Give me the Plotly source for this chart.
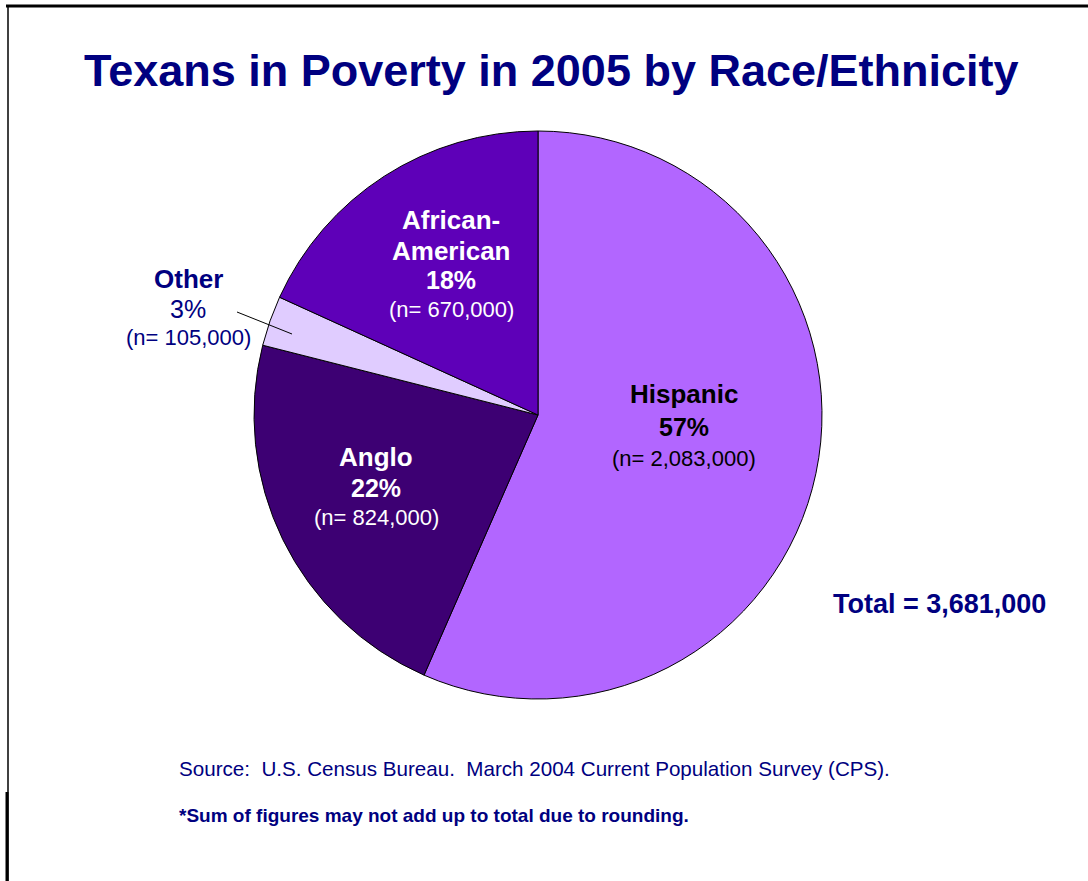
import plotly.graph_objects as go

# Poverty counts by race/ethnicity, Texas 2005
groups = ["Hispanic", "Anglo", "Other", "African-American"]
counts = [2083000, 824000, 105000, 670000]
percents = [57, 22, 3, 18]
total = 3681000
slice_colors = ["#B266FF", "#3D0073", "#E0CCFF", "#5E00B8"]
label_colors = ["#000000", "#FFFFFF", "#000080", "#FFFFFF"]

W, H = 1088, 881
NAVY = "#000080"
FONT = "Liberation Sans, Arial, sans-serif"


def px(x):
    return x / W


def py(y):
    return 1 - y / H


# pie centre and radius in pixels
cx, cy, r = 538, 415, 284

fig = go.Figure(
    go.Pie(
        labels=groups,
        values=counts,
        sort=False,
        direction="clockwise",
        rotation=0,
        marker=dict(colors=slice_colors, line=dict(color="#000000", width=1)),
        textinfo="none",
        textposition="none",
        hoverinfo="label+value+percent",
        domain=dict(x=[px(cx - r), px(cx + r)], y=[py(cy + r), py(cy - r)]),
        showlegend=False,
    )
)

annotations = []


def add_text(text, x, y, size, color, bold=False, family=FONT, anchor="center"):
    annotations.append(
        dict(
            text=f"<b>{text}</b>" if bold else text,
            x=px(x), y=py(y), xref="paper", yref="paper",
            xanchor=anchor, yanchor="middle", showarrow=False,
            font=dict(family=family, size=size, color=color),
        )
    )


# slice label blocks: name lines, percent, count
label_layout = {
    "Hispanic": dict(x=684, names=[("Hispanic", 394)], pct_y=427, n_y=459, pct_bold=True),
    "Anglo": dict(x=376, names=[("Anglo", 457)], pct_y=488, n_y=517, pct_bold=True),
    "Other": dict(x=188, names=[("Other", 279)], pct_y=309, n_y=337, pct_bold=False),
    "African-American": dict(x=451, names=[("African-", 220), ("American", 251)],
                             pct_y=280, n_y=310, pct_bold=True),
}

for g, n, p, col in zip(groups, counts, percents, label_colors):
    spec = label_layout[g]
    for line, y in spec["names"]:
        add_text(line, spec["x"], y, 26, col, bold=True)
    add_text(f"{p}%", spec["x"], spec["pct_y"], 25, col, bold=spec["pct_bold"])
    add_text(f"(n= {n:,})", spec["x"], spec["n_y"], 22, col)

add_text("Texans in Poverty in 2005 by Race/Ethnicity", 551, 71, 45, NAVY, bold=True)
add_text(f"Total = {total:,}", 831, 604, 27, NAVY, bold=True, anchor="left")
add_text("Source:  U.S. Census Bureau.  March 2004 Current Population Survey (CPS).",
         177, 768, 20.6, NAVY, anchor="left")
add_text("*Sum of figures may not add up to total due to rounding.", 177, 815, 19, NAVY,
         bold=True, anchor="left",
         family="Liberation Sans Narrow, Arial Narrow, Liberation Sans, sans-serif")

shapes = [
    # frame: top rule and left rule
    dict(type="line", xref="paper", yref="paper", x0=px(6), x1=px(1088), y0=py(6), y1=py(6),
         line=dict(color="#000000", width=3)),
    dict(type="line", xref="paper", yref="paper", x0=px(8), x1=px(8), y0=py(6), y1=py(881),
         line=dict(color="#000000", width=1.5)),
    dict(type="line", xref="paper", yref="paper", x0=px(7), x1=px(7), y0=py(792), y1=py(881),
         line=dict(color="#000000", width=3)),
    # leader line to the Other slice
    dict(type="line", xref="paper", yref="paper", x0=px(237), x1=px(292), y0=py(312), y1=py(334),
         line=dict(color="#000000", width=1)),
]

fig.update_layout(
    width=W, height=H,
    margin=dict(l=0, r=0, t=0, b=0),
    paper_bgcolor="#FFFFFF",
    plot_bgcolor="#FFFFFF",
    annotations=annotations,
    shapes=shapes,
)

fig.write_html("out.html")
